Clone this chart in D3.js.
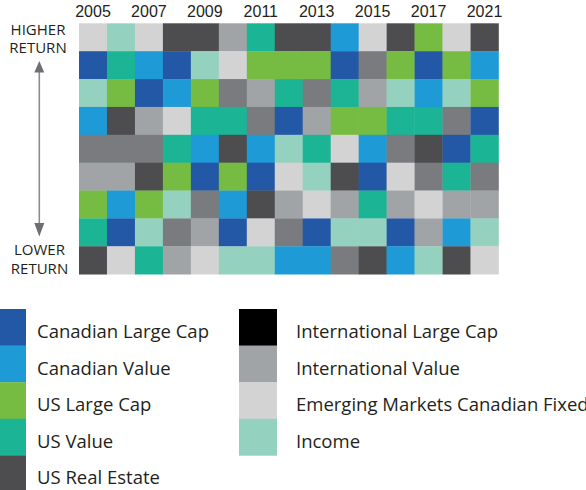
<!DOCTYPE html>
<html lang="en">

<head>
    <meta charset="utf-8">
    <title>Asset class returns</title>
    <script src="https://cdn.jsdelivr.net/npm/d3@7/dist/d3.min.js"></script>
    <style>
        body {
            margin: 0;
            background: #fff;
        }

        svg {
            display: block;
            font-family: "Open Sans", sans-serif;
        }

        .axis text {
            font-size: 16px;
            fill: #231f20;
        }

        .legend text {
            font-size: 18.5px;
            fill: #231f20;
        }
    </style>
</head>

<body>
    <div id="chart"></div>

    <script type="text/javascript">
        var width = 586;
        var height = 490;

        // columns (years) and the labels printed above them
        var years = ["2005", "2006", "2007", "2008", "2009", "2010", "2011", "2012",
            "2013", "2014", "2015", "2016", "2017", "2018", "2019"];
        var tickLabels = ["2005", "2007", "2009", "2011", "2013", "2015", "2017", "2021"];

        var assetKeys = ["CL", "CV", "UL", "UV", "RE", "IL", "IV", "EM", "FI"];
        var assetNames = ["Canadian Large Cap", "Canadian Value", "US Large Cap", "US Value", "US Real Estate",
            "International Large Cap", "International Value", "Emerging Markets Canadian Fixed", "Income"];

        // ranking per year, best first
        var rank2005 = ["EM", "CL", "FI", "CV", "IL", "IV", "UL", "UV", "RE"];
        var rank2006 = ["FI", "UV", "UL", "RE", "IL", "IV", "CV", "CL", "EM"];
        var rank2007 = ["EM", "CV", "CL", "IV", "IL", "RE", "UL", "FI", "UV"];
        var rank2008 = ["RE", "CL", "CV", "EM", "UV", "UL", "FI", "IL", "IV"];
        var rank2009 = ["RE", "FI", "UL", "UV", "CV", "CL", "IL", "IV", "EM"];
        var rank2010 = ["IV", "EM", "IL", "UV", "RE", "UL", "CV", "CL", "FI"];
        var rank2011 = ["UV", "UL", "IV", "IL", "CV", "CL", "RE", "EM", "FI"];
        var rank2012 = ["RE", "UL", "UV", "CL", "FI", "EM", "IV", "IL", "CV"];
        var rank2013 = ["RE", "UL", "IL", "IV", "UV", "FI", "EM", "CL", "CV"];
        var rank2014 = ["CV", "CL", "UV", "UL", "EM", "RE", "IV", "FI", "IL"];
        var rank2015 = ["EM", "IL", "IV", "UL", "CV", "CL", "UV", "FI", "RE"];
        var rank2016 = ["RE", "UL", "FI", "UV", "IL", "EM", "IV", "CL", "CV"];
        var rank2017 = ["UL", "CL", "CV", "UV", "RE", "IL", "EM", "IV", "FI"];
        var rank2018 = ["EM", "UL", "FI", "IL", "CL", "UV", "IV", "CV", "RE"];
        var rank2019 = ["RE", "CV", "UL", "CL", "UV", "IL", "IV", "FI", "EM"];

        var rankings = [rank2005, rank2006, rank2007, rank2008, rank2009, rank2010, rank2011, rank2012,
            rank2013, rank2014, rank2015, rank2016, rank2017, rank2018, rank2019];

        var cells = [];
        rankings.forEach((col, i) => {
            col.forEach((key, r) => {
                cells.push({ year: years[i], rank: r, key: key });
            });
        });

        var svg = d3.select('#chart')
            .append('svg')
            .attr('width', width)
            .attr('height', height);

        var xScale = d3.scaleBand()
            .domain(years)
            .range([79, 498.5]);

        var yScale = d3.scaleBand()
            .domain(d3.range(9))
            .range([23.3, 274.2]);

        var color = d3.scaleOrdinal()
            .domain(assetKeys)
            .range(["#2358a6", "#1e9ad6", "#76bc43", "#1bb595", "#4d4d4f",
                "#797b7e", "#a1a4a6", "#d3d3d3", "#94d1be"]);

        svg.append('g')
            .selectAll('rect')
            .data(cells)
            .enter()
            .append('rect')
            .attr('x', d => xScale(d.year))
            .attr('y', d => yScale(d.rank))
            .attr('width', xScale.bandwidth() + 0.3)
            .attr('height', yScale.bandwidth() + 0.3)
            .attr('fill', d => color(d.key));

        // year labels on every other column
        var tickYears = years.filter((d, i) => i % 2 === 0);
        var xAxis = d3.axisTop(xScale)
            .tickValues(tickYears)
            .tickSize(0)
            .tickPadding(0)
            .tickFormat((d, i) => tickLabels[i]);

        svg.append('g')
            .attr('class', 'axis')
            .attr('transform', 'translate(0,17)')
            .call(xAxis)
            .call(g => g.select('.domain').remove())
            .selectAll('text')
            .attr('dy', 0)
            .attr('font-family', null)
            .attr('font-size', null);

        // higher / lower return labels
        var sideLabels = svg.append('g')
            .style('font-size', '15px')
            .style('fill', '#231f20')
            .attr('text-anchor', 'middle');
        sideLabels.append('text').attr('x', 38).attr('y', 34.5).text('HIGHER');
        sideLabels.append('text').attr('x', 38).attr('y', 53).text('RETURN');
        sideLabels.append('text').attr('x', 39.5).attr('y', 255).text('LOWER');
        sideLabels.append('text').attr('x', 39.5).attr('y', 274).text('RETURN');

        var arrowX = 39.3;
        svg.append('line')
            .attr('x1', arrowX).attr('x2', arrowX)
            .attr('y1', 70).attr('y2', 226)
            .attr('stroke', '#8a8c8e')
            .attr('stroke-width', 1.6);
        svg.append('path')
            .attr('d', `M${arrowX},61 L${arrowX + 5},72.5 L${arrowX - 5},72.5 Z`)
            .attr('fill', '#6d6e71');
        svg.append('path')
            .attr('d', `M${arrowX},236.5 L${arrowX + 5},223 L${arrowX - 5},223 Z`)
            .attr('fill', '#6d6e71');

        // legend, two columns
        var legendRow = 36.6;
        var legendCols = [
            { x: -12, textX: 49, keys: assetKeys.slice(0, 5) },
            { x: 239, textX: 57, keys: assetKeys.slice(5) }
        ];

        legendCols.forEach(col => {
            var g = svg.append('g').attr('class', 'legend');
            var item = g.selectAll('g')
                .data(col.keys)
                .enter()
                .append('g')
                .attr('transform', (d, i) => `translate(${col.x},${309 + i * legendRow})`);
            item.append('rect')
                .attr('width', 38)
                .attr('height', legendRow + 0.3)
                .attr('fill', d => d === 'IL' ? '#000000' : color(d));
            item.append('text')
                .attr('x', col.textX)
                .attr('y', 29)
                .text(d => assetNames[assetKeys.indexOf(d)]);
        });
    </script>
</body>

</html>
